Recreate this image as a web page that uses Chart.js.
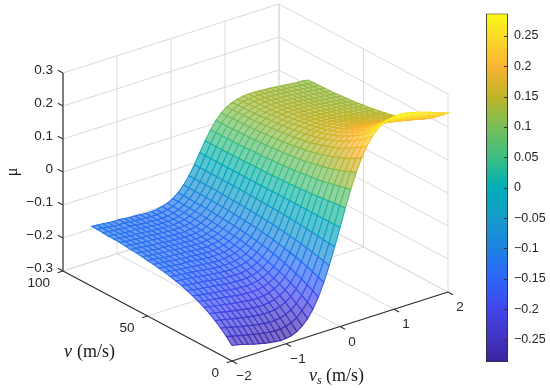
<!DOCTYPE html>
<html>
<head>
<meta charset="utf-8">
<title>mu surface</title>
<script src="https://cdn.jsdelivr.net/npm/chart.js@4"></script>
<style>
  body { margin: 0; background: #fff; }
  #wrap { position: relative; width: 550px; height: 390px; }
  canvas { position: absolute; top: 0; }
  #surface { left: 0; }
  #colorbar { left: 470px; }
</style>
</head>
<body>
<div id="wrap">
  <canvas id="surface" width="550" height="390"></canvas>
  <canvas id="colorbar" width="80" height="390"></canvas>
</div>
<script>
const vsTicks = [-2, -1, 0, 1, 2];
const vTicks = [0, 50, 100];
const muTicks = [-0.3, -0.2, -0.1, 0, 0.1, 0.2, 0.3];
const barTicks = [-0.25, -0.2, -0.15, -0.1, -0.05, 0, 0.05, 0.1, 0.15, 0.2, 0.25];
const barMin = -0.287;
const barMax = 0.287;

// colours
const colorAt = [-0.287, -0.25, -0.2, -0.15, -0.1, -0.05, 0, 0.05, 0.1, 0.15, 0.2, 0.25, 0.287];
const colorRgb = [[60, 35, 160], [65, 50, 190], [65, 70, 235], [45, 100, 250], [30, 130, 225], [20, 155, 200], [0, 175, 185],
  [60, 190, 130], [120, 190, 90], [190, 180, 40], [250, 180, 50], [250, 220, 40], [248, 250, 20]];

const vsGrid = [-2, -1.9, -1.8, -1.7, -1.6, -1.5, -1.4, -1.3, -1.2, -1.1, -1, -0.9, -0.8, -0.7, -0.6, -0.5, -0.4, -0.3, -0.2, -0.1, 0,
  0.1, 0.2, 0.3, 0.4, 0.5, 0.6, 0.7, 0.8, 0.9, 1, 1.1, 1.2, 1.3, 1.4, 1.5, 1.6, 1.7, 1.8, 1.9, 2];
const vGrid = [0, 3.32, 6.64, 9.96, 13.28, 16.6, 19.92, 23.24, 26.56, 29.88, 33.2, 36.52, 39.84, 43.16, 46.48, 49.8, 53.12, 56.44, 59.76, 63.08, 66.4, 69.72, 73.04, 76.36, 79.68, 83];

// mu x 1000, one row per v, one column per vs
const muRows = [
[-253,-256,-260,-265,-270,-274,-278,-281,-283,-285,-284,-281,-274,-262,-245,-221,-190,-151,-105,-54,0,54,105,151,190,221,245,262,274,281,284,285,283,280,276,271,266,260,254,248,243],
[-235,-239,-243,-247,-251,-254,-258,-261,-263,-265,-264,-262,-256,-246,-230,-209,-180,-144,-101,-52,0,52,101,144,180,209,230,246,256,262,264,265,263,260,256,252,247,242,237,232,227],
[-219,-222,-226,-230,-234,-237,-241,-244,-246,-248,-248,-245,-240,-231,-217,-198,-171,-137,-96,-50,0,50,96,137,171,198,217,231,240,245,248,248,246,243,240,236,231,227,222,217,213],
[-205,-208,-212,-215,-219,-222,-225,-228,-230,-232,-232,-230,-225,-217,-205,-187,-162,-130,-92,-48,0,48,92,130,162,187,205,217,225,230,232,232,230,227,224,221,217,213,208,204,200],
[-193,-196,-199,-203,-206,-209,-212,-215,-217,-219,-219,-217,-213,-206,-194,-178,-155,-125,-88,-46,0,46,88,125,155,178,194,206,213,217,219,219,217,215,212,208,205,201,197,193,189],
[-183,-186,-189,-192,-195,-198,-200,-203,-205,-207,-207,-205,-202,-195,-185,-169,-148,-119,-84,-44,0,44,84,119,148,169,185,195,202,205,207,207,205,203,200,197,193,190,187,183,180],
[-174,-177,-180,-182,-185,-187,-190,-193,-195,-196,-197,-196,-192,-186,-177,-162,-142,-115,-81,-42,0,42,81,115,142,162,177,186,192,196,197,196,195,193,190,187,184,181,178,175,171],
[-166,-169,-172,-175,-177,-179,-181,-184,-186,-187,-188,-187,-184,-178,-169,-156,-136,-111,-79,-41,0,41,79,111,136,156,169,178,184,187,188,187,186,184,181,179,176,173,170,167,164],
[-159,-162,-165,-167,-169,-171,-174,-176,-178,-179,-180,-179,-176,-171,-163,-150,-131,-107,-76,-39,0,39,76,107,131,150,163,171,176,179,180,179,178,176,174,171,168,166,163,160,157],
[-153,-156,-158,-160,-162,-164,-167,-169,-171,-172,-173,-172,-170,-165,-157,-145,-127,-103,-74,-38,0,38,74,103,127,145,157,165,170,172,173,172,171,169,167,164,162,159,157,154,151],
[-148,-150,-152,-154,-156,-159,-161,-163,-165,-166,-167,-166,-164,-159,-152,-140,-123,-100,-71,-37,0,37,71,100,123,140,152,159,164,166,167,166,165,163,161,159,156,154,151,149,146],
[-144,-146,-148,-150,-152,-154,-156,-158,-160,-161,-162,-161,-159,-155,-148,-136,-120,-98,-70,-36,0,36,70,98,120,136,148,155,159,161,162,161,160,158,156,154,152,149,147,145,142],
[-140,-142,-144,-146,-148,-149,-151,-153,-155,-156,-157,-156,-154,-150,-143,-133,-117,-95,-68,-35,0,35,68,95,117,133,143,150,154,156,157,156,155,153,151,149,147,145,142,140,138],
[-137,-139,-141,-143,-145,-145,-147,-149,-151,-152,-153,-152,-151,-147,-140,-129,-114,-93,-67,-35,0,35,67,93,114,129,140,147,151,152,153,152,151,149,147,145,143,141,139,137,135],
[-134,-136,-138,-140,-142,-143,-145,-146,-148,-149,-150,-150,-148,-144,-137,-127,-112,-92,-66,-34,0,34,66,92,112,127,137,144,148,150,150,149,148,146,145,143,140,138,136,134,132],
[-132,-133,-135,-138,-140,-140,-142,-143,-145,-146,-147,-147,-145,-141,-135,-125,-110,-90,-64,-34,0,34,64,90,110,125,135,141,145,147,147,146,145,143,142,140,138,136,133,131,130],
[-129,-131,-133,-135,-137,-137,-139,-141,-142,-143,-144,-144,-142,-138,-132,-123,-108,-89,-63,-33,0,33,63,89,108,123,132,138,142,144,144,143,142,141,139,137,135,133,131,129,127],
[-127,-129,-131,-133,-135,-135,-137,-139,-140,-141,-142,-142,-140,-136,-130,-121,-107,-87,-63,-33,0,33,63,87,107,121,130,136,140,142,142,141,140,139,137,135,133,131,129,127,125],
[-126,-127,-129,-131,-133,-133,-135,-137,-138,-139,-140,-140,-138,-135,-129,-119,-105,-86,-62,-32,0,32,62,86,105,119,129,135,138,140,140,139,138,137,135,133,131,129,127,125,124],
[-124,-126,-128,-129,-131,-131,-133,-135,-136,-137,-138,-138,-136,-133,-127,-118,-104,-85,-61,-32,0,32,61,85,104,118,127,133,136,138,138,137,136,135,133,131,129,127,126,124,122],
[-122,-124,-126,-128,-129,-129,-131,-133,-134,-135,-136,-136,-134,-131,-125,-116,-103,-84,-60,-32,0,32,60,84,103,116,125,131,134,136,136,135,134,133,131,129,127,126,124,122,120],
[-121,-123,-125,-127,-128,-128,-130,-132,-133,-134,-135,-135,-133,-130,-124,-115,-102,-84,-60,-31,0,31,60,84,102,115,124,130,133,135,135,134,133,132,130,128,126,125,123,121,119],
[-121,-122,-124,-126,-128,-127,-129,-131,-132,-133,-134,-134,-132,-129,-123,-115,-102,-83,-60,-31,0,31,60,83,102,115,123,129,132,134,134,133,132,131,129,127,126,124,122,120,119],
[-120,-121,-123,-125,-127,-126,-128,-130,-131,-132,-133,-133,-132,-128,-123,-114,-101,-83,-59,-31,0,31,59,83,101,114,123,128,132,133,133,132,131,130,128,126,125,123,121,119,118],
[-119,-120,-122,-124,-126,-125,-127,-129,-130,-131,-132,-132,-130,-127,-122,-113,-100,-82,-59,-31,0,31,59,82,100,113,122,127,130,132,132,131,130,129,127,125,124,122,120,118,117],
[-118,-120,-121,-123,-125,-124,-126,-128,-129,-130,-131,-131,-130,-126,-121,-113,-100,-82,-59,-31,0,31,59,82,100,113,121,126,130,131,131,130,129,128,126,124,123,121,119,118,116]
];

const gridColor = '#d9d9d9';
const axisColor = '#303030';
const textColor = '#262626';

// fixed view of the box: front corner is vs=-2, v=0, mu=-0.3
function project(vs, v, mu) {
  return {
    x: 232 + 54 * (vs + 2) - 1.69 * v,
    y: 361 - 17.25 * (vs + 2) - 0.9 * v - 330 * (mu + 0.3)
  };
}

function muColor(mu, tint = 0) {
  let k = 0;
  while (k < colorAt.length - 2 && mu > colorAt[k + 1]) k++;
  const t = Math.min(1, Math.max(0, (mu - colorAt[k]) / (colorAt[k + 1] - colorAt[k])));
  const c = colorRgb[k].map((a, n) => {
    const base = a + (colorRgb[k + 1][n] - a) * t;
    return Math.round(base + (255 - base) * tint);
  });
  return `rgb(${c[0]},${c[1]},${c[2]})`;
}

function lineSet(points, color, width) {
  return { data: points, showLine: true, borderColor: color, borderWidth: width, pointRadius: 0, fill: false, clip: false };
}

function boxLine(a, b, color, width) {
  return lineSet([project(...a), project(...b)], color, width);
}

// back walls and floor, drawn first
const gridSets = [];
vsTicks.forEach(vs => {
  gridSets.push(boxLine([vs, 0, -0.3], [vs, 100, -0.3], gridColor, 1));
  gridSets.push(boxLine([vs, 100, -0.3], [vs, 100, 0.3], gridColor, 1));
});
vTicks.forEach(v => {
  gridSets.push(boxLine([-2, v, -0.3], [2, v, -0.3], gridColor, 1));
  gridSets.push(boxLine([2, v, -0.3], [2, v, 0.3], gridColor, 1));
});
muTicks.forEach(mu => {
  gridSets.push(boxLine([-2, 100, mu], [2, 100, mu], gridColor, 1));
  gridSets.push(boxLine([2, 100, mu], [2, 0, mu], gridColor, 1));
});

// mesh cells, frontmost first because Chart.js paints the list from the end
// the real mesh is finer than this table, so the cells get a pale fill of the same colour
const meshSets = [];
for (let r = 0; r < vGrid.length - 1; r++) {
  for (let c = 0; c < vsGrid.length - 1; c++) {
    const m = [muRows[r][c], muRows[r][c + 1], muRows[r + 1][c + 1], muRows[r + 1][c]].map(n => n / 1000);
    const cell = [
      project(vsGrid[c], vGrid[r], m[0]),
      project(vsGrid[c + 1], vGrid[r], m[1]),
      project(vsGrid[c + 1], vGrid[r + 1], m[2]),
      project(vsGrid[c], vGrid[r + 1], m[3])
    ];
    cell.push(cell[0]);
    const mean = (m[0] + m[1] + m[2] + m[3]) / 4;
    const set = lineSet(cell, muColor(mean), 1.1);
    set.fill = 'shape';
    set.backgroundColor = muColor(mean, 0.32);
    meshSets.push(set);
  }
}

// dark axes and tick marks go on top
const axisSets = [
  boxLine([-2, 100, -0.3], [-2, 100, 0.3], '#505050', 1.4),
  boxLine([-2, 100, -0.3], [-2, 0, -0.3], axisColor, 1.1),
  boxLine([-2, 0, -0.3], [2, 0, -0.3], axisColor, 1.1)
];
muTicks.forEach(mu => axisSets.push(boxLine([-2, 100, mu], [-2, 103, mu], axisColor, 1.1)));
vTicks.forEach(v => axisSets.push(boxLine([-2, v, -0.3], [-2.1, v, -0.3], axisColor, 1.1)));
vsTicks.forEach(vs => axisSets.push(boxLine([vs, 0, -0.3], [vs, -3, -0.3], axisColor, 1.1)));

function fmt(n) {
  return String(n).replace('-', '\u2212');
}

const boxText = {
  id: 'boxText',
  afterDatasetsDraw(chart) {
    const ctx = chart.ctx;
    const sx = chart.scales.x;
    const sy = chart.scales.y;
    const put = (p, dx, dy, str, align, font) => {
      ctx.font = font;
      ctx.textAlign = align;
      ctx.fillText(str, sx.getPixelForValue(p.x) + dx, sy.getPixelForValue(p.y) + dy);
    };
    const tickFont = '13.5px "Liberation Sans"';
    ctx.save();
    ctx.fillStyle = textColor;
    ctx.textBaseline = 'middle';
    muTicks.forEach(mu => put(project(-2, 100, mu), -10, -2.5, fmt(mu), 'right', tickFont));
    vTicks.forEach(v => put(project(-2, v, -0.3), -13, 12, fmt(v), 'right', tickFont));
    vsTicks.forEach(vs => put(project(vs, 0, -0.3), 12, 15.5, fmt(vs), 'center', tickFont));

    ctx.fillStyle = '#1a1a1a';
    ctx.textBaseline = 'alphabetic';
    ctx.textAlign = 'left';
    ctx.font = 'italic 18px "Liberation Serif"';
    ctx.fillText('v', 64, 357);
    ctx.font = '18px "Liberation Serif"';
    ctx.fillText('(m/s)', 77, 357);
    ctx.font = 'italic 18px "Liberation Serif"';
    ctx.fillText('v', 309, 381);
    ctx.font = 'italic 12px "Liberation Serif"';
    ctx.fillText('s', 317, 384);
    ctx.font = '18px "Liberation Serif"';
    ctx.fillText('(m/s)', 326, 381);

    ctx.translate(17, 172);
    ctx.rotate(-Math.PI / 2);
    ctx.textAlign = 'center';
    ctx.font = '16px "Liberation Serif"';
    ctx.fillText('\u03bc', 0, 0);
    ctx.restore();
  }
};

new Chart(document.getElementById('surface'), {
  type: 'scatter',
  data: { datasets: [...axisSets, ...meshSets, ...gridSets] },
  options: {
    responsive: false,
    animation: false,
    events: [],
    layout: { padding: 0 },
    scales: {
      x: { type: 'linear', min: 0, max: 550, display: false },
      y: { type: 'linear', min: 0, max: 390, reverse: true, display: false }
    },
    plugins: { legend: { display: false }, tooltip: { enabled: false }, filler: { drawTime: 'beforeDatasetDraw' } }
  },
  plugins: [boxText]
});

const barTickMarks = {
  id: 'barTickMarks',
  afterDatasetsDraw(chart) {
    const ctx = chart.ctx;
    const right = chart.chartArea.right;
    ctx.save();
    ctx.strokeStyle = '#303030';
    ctx.lineWidth = 1;
    barTicks.forEach(t => {
      const y = Math.round(chart.scales.y.getPixelForValue(t)) + 0.5;
      ctx.beginPath();
      ctx.moveTo(right - 4, y);
      ctx.lineTo(right, y);
      ctx.stroke();
    });
    ctx.restore();
  }
};

new Chart(document.getElementById('colorbar'), {
  type: 'bar',
  data: {
    labels: ['\u03bc'],
    datasets: [{
      data: [[barMin, barMax]],
      barPercentage: 1,
      categoryPercentage: 1,
      borderWidth: 1.2,
      borderColor: '#303030',
      borderSkipped: false,
      backgroundColor(context) {
        const { ctx, chartArea } = context.chart;
        if (!chartArea) return undefined;
        const g = ctx.createLinearGradient(0, chartArea.bottom, 0, chartArea.top);
        colorAt.forEach((mu, n) => g.addColorStop((mu - barMin) / (barMax - barMin), muColor(mu)));
        return g;
      }
    }]
  },
  options: {
    responsive: false,
    animation: false,
    events: [],
    layout: { padding: { left: 16, top: 6, bottom: 28, right: 0 } },
    scales: {
      x: { display: false },
      y: {
        position: 'right',
        min: barMin,
        max: barMax,
        afterBuildTicks(scale) { scale.ticks = barTicks.map(value => ({ value })); },
        afterFit(scale) { scale.width = 42; },
        border: { display: false },
        grid: { drawOnChartArea: false, drawTicks: false },
        ticks: { padding: 6, color: textColor, font: { family: 'Liberation Sans', size: 12.5 }, callback: v => fmt(v) }
      }
    },
    plugins: { legend: { display: false }, tooltip: { enabled: false } }
  },
  plugins: [barTickMarks]
});
</script>
</body>
</html>
